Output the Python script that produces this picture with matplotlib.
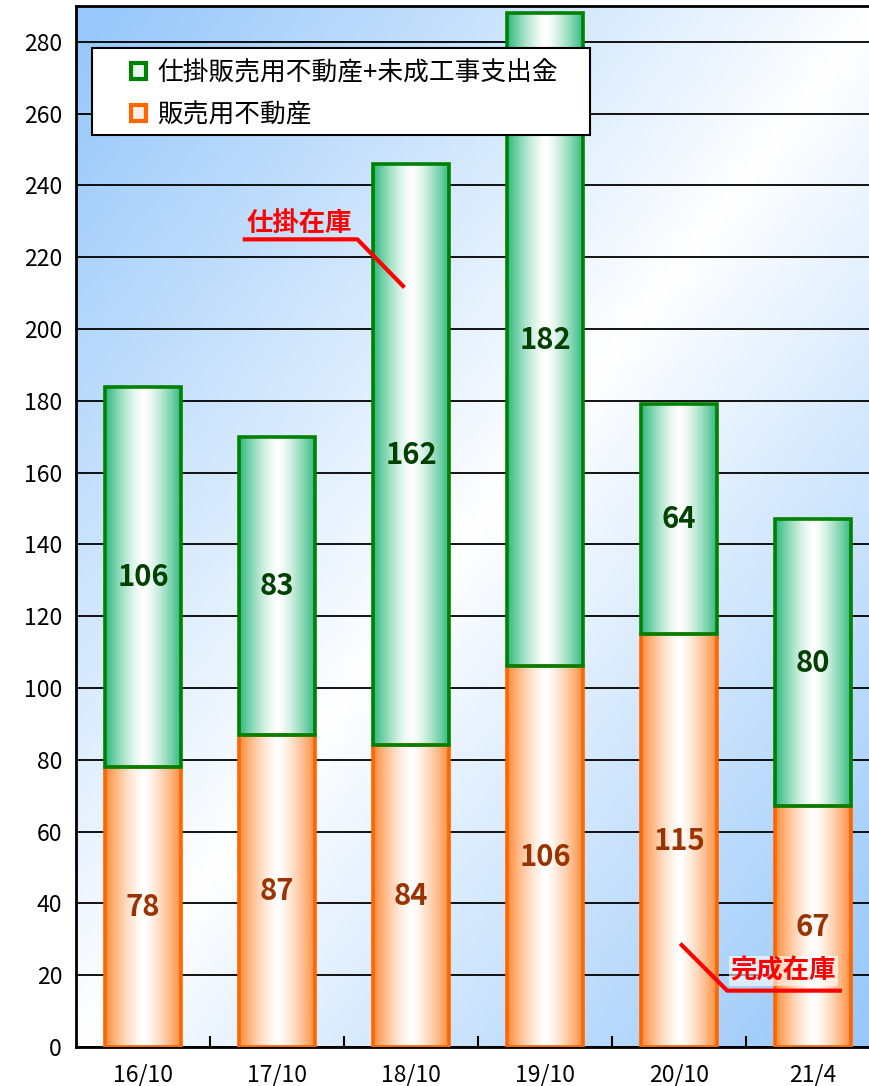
import numpy as np
import matplotlib.pyplot as plt
from matplotlib.patches import Rectangle
from matplotlib.colors import to_rgb

plt.rcParams['font.family'] = ['Noto Sans CJK JP', 'DejaVu Sans']

categories = ["16/10", "17/10", "18/10", "19/10", "20/10", "21/4"]
finished = [78, 87, 84, 106, 115, 67]          # 販売用不動産
in_progress = [106, 83, 162, 182, 64, 80]      # 仕掛販売用不動産+未成工事支出金

label_wip = "仕掛販売用不動産+未成工事支出金"
label_fin = "販売用不動産"

W, H = 869, 1086
fig = plt.figure(figsize=(W / 100, H / 100), dpi=100)
ax = fig.add_axes([76 / W, 39 / H, (880 - 76) / W, (1047 - 6) / H])

x = np.arange(len(categories))

# background: blue corners (top-left, bottom-right), white diagonal band
blue = np.array(to_rgb('#98c8fa'))
u, v = np.meshgrid(np.linspace(0, 1, 300), np.linspace(1, 0, 300))
t = (u + (1 - v)) / 2
k = np.clip(np.abs(t - 0.5) * 2.1, 0, 1) ** 0.95
bg = 1 - (1 - blue)[None, None, :] * k[:, :, None]
ax.imshow(bg, extent=[-0.5, len(categories) - 0.5, 0, 290], aspect='auto',
          zorder=0, interpolation='bilinear')


def bar_gradient(edge):
    c = np.array(to_rgb(edge))
    s = np.linspace(0, 1, 200)
    w = (np.abs(s - 0.5) * 2) ** 1.4
    img = 1 - (1 - c)[None, :] * w[:, None]
    return img[None, :, :]


def fill_bars(bars, edge):
    img = bar_gradient(edge)
    for b in bars:
        x0, y0 = b.get_x(), b.get_y()
        im = ax.imshow(img, extent=[x0, x0 + b.get_width(), y0, y0 + b.get_height()],
                       aspect='auto', zorder=2, interpolation='bilinear')
        im.set_clip_path(b)


width = 0.57
b1 = ax.bar(x, finished, width, facecolor='none', edgecolor='#ff6600', lw=2.6, zorder=3)
b2 = ax.bar(x, in_progress, width, bottom=finished, facecolor='none',
            edgecolor='#008000', lw=2.6, zorder=3)
fill_bars(b1, '#ff8a36')
fill_bars(b2, '#2cb87c')
ax.set_xlim(-0.5, len(categories) - 0.5)
ax.set_ylim(0, 290)

for xi, f, p in zip(x, finished, in_progress):
    ax.text(xi, f / 2, str(f), ha='center', va='center', fontsize=21,
            fontweight='bold', color='#993300', zorder=4)
    ax.text(xi, f + p / 2, str(p), ha='center', va='center', fontsize=21,
            fontweight='bold', color='#004000', zorder=4)

# axes styling
ax.set_yticks(np.arange(0, 281, 20))
ax.yaxis.grid(True, color='black', lw=1.3)
ax.set_axisbelow(True)
ax.tick_params(axis='y', length=0, labelsize=16.5, pad=10)
ax.set_xticks(x)
ax.set_xticklabels(categories)
ax.tick_params(axis='x', which='major', length=0, labelsize=16.5, pad=12)
ax.set_xticks(x[:-1] + 0.5, minor=True)
ax.tick_params(axis='x', which='minor', direction='in', length=8, width=1.5)
for s in ['left', 'bottom', 'top']:
    ax.spines[s].set_linewidth(2)
    ax.spines[s].set_color('black')
ax.spines['right'].set_visible(False)

# legend: white box drawn separately, entries placed inside it
ax.add_patch(Rectangle((0.0199, 0.876), 0.619, 0.0837, transform=ax.transAxes,
                       facecolor='white', edgecolor='black', lw=1.5,
                       zorder=5, clip_on=False))
h1 = Rectangle((0, 0), 1, 1, facecolor='#e8f8ee', edgecolor='#008000', lw=3)
h2 = Rectangle((0, 0), 1, 1, facecolor='#fff0e6', edgecolor='#ff6600', lw=3)
leg = ax.legend([h1, h2], [label_wip, label_fin], loc='upper left',
                bbox_to_anchor=(0.069, 0.948), fontsize=18.5, frameon=False,
                handlelength=0.55, handleheight=0.55, handletextpad=0.45,
                borderpad=0, labelspacing=0.63, borderaxespad=0)
leg.set_zorder(6)

# annotations
ax.text(1.17, 229.5, "仕掛在庫", color='red', fontsize=19, fontweight='bold',
        ha='center', va='center', zorder=6)
ax.plot([0.76, 1.60, 1.94], [225.0, 225.0, 212.0], color='red', lw=3, zorder=6)

ax.text(4.78, 21.2, "完成在庫", color='red', fontsize=19, fontweight='bold',
        ha='center', va='center', zorder=6,
        bbox=dict(facecolor='white', edgecolor='none', alpha=0.6, pad=1))
ax.plot([4.02, 4.36, 5.20], [28.4, 15.7, 15.7], color='red', lw=3, zorder=6)

fig.savefig('out.png', dpi=100)
